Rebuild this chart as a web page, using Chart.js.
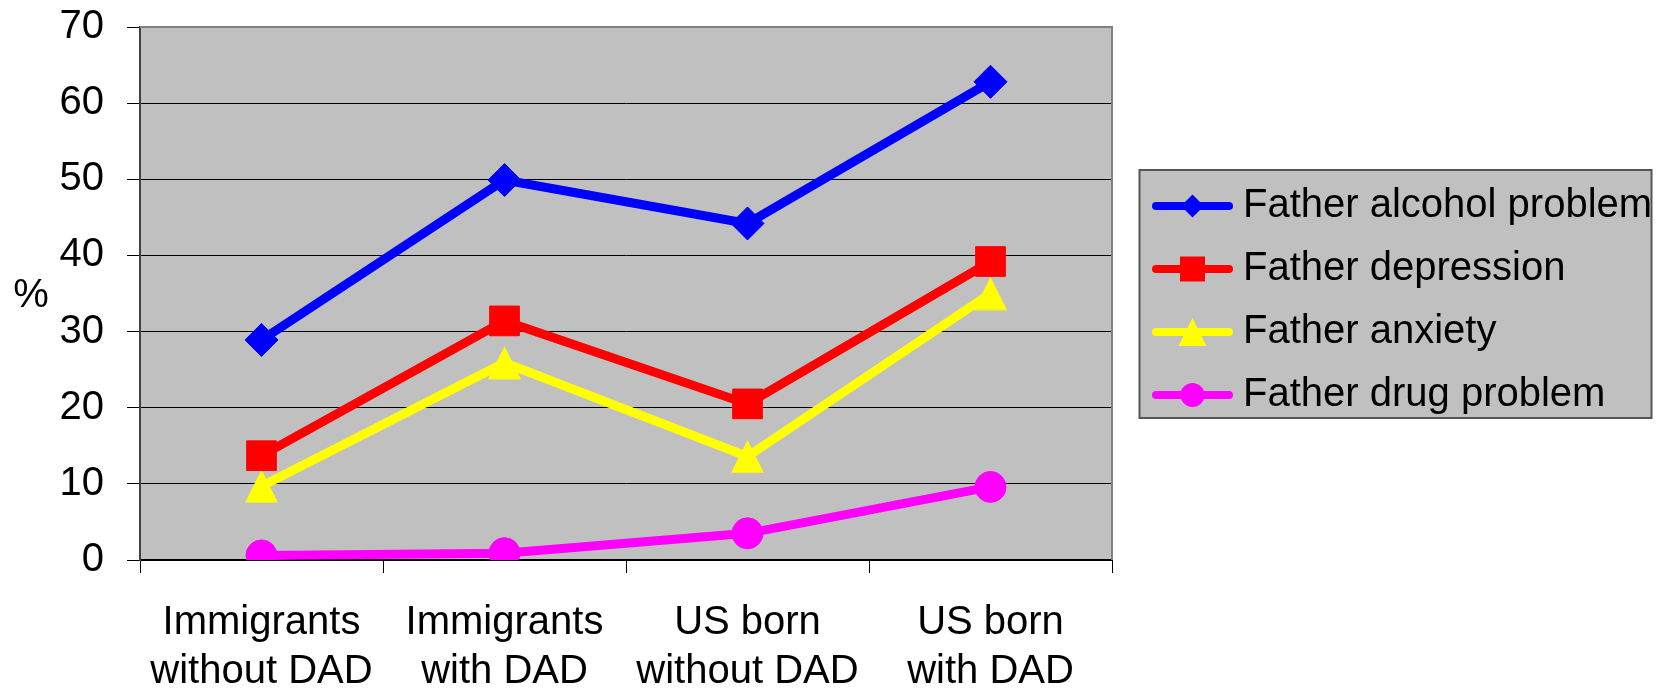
<!DOCTYPE html>
<html><head><meta charset="utf-8">
<script src="https://cdn.jsdelivr.net/npm/chart.js@4"></script>
<style>html,body{margin:0;padding:0;background:#fff;} canvas{display:block;}</style>
</head><body>
<canvas id="c" width="1667" height="689"></canvas>
<script>
const categories = [['Immigrants','without DAD'],['Immigrants','with DAD'],['US born','without DAD'],['US born','with DAD']];
const seriesNames = ['Father alcohol problem','Father depression','Father anxiety','Father drug problem'];
const alcohol = [28.9, 49.9, 44.2, 62.8];
const depression = [13.7, 31.4, 20.5, 39.2];
const anxiety = [9.7, 25.9, 13.6, 35.0];
const drug = [0.6, 0.9, 3.5, 9.6];
const yTicks = [0, 10, 20, 30, 40, 50, 60, 70];
const axisTitle = '%';

const FONT = "'Liberation Sans', Arial, sans-serif";
const FS = 40;
const colors = ['#0000FF', '#FF0000', '#FFFF00', '#FF00FF'];
const shapes = ['diamond', 'square', 'triangle', 'circle'];
const LEGEND_W = 555;

function drawMarker(ctx, shape, cx, cy, s, color) {
  ctx.fillStyle = color;
  ctx.beginPath();
  if (shape === 'diamond') {
    ctx.moveTo(cx, cy - s / 2); ctx.lineTo(cx + s / 2, cy); ctx.lineTo(cx, cy + s / 2); ctx.lineTo(cx - s / 2, cy);
  } else if (shape === 'square') {
    ctx.rect(cx - s / 2, cy - s / 2, s, s);
  } else if (shape === 'triangle') {
    ctx.moveTo(cx, cy - s / 2); ctx.lineTo(cx + s / 2, cy + s / 2); ctx.lineTo(cx - s / 2, cy + s / 2);
  } else {
    ctx.arc(cx, cy, s / 2, 0, Math.PI * 2);
  }
  ctx.closePath();
  ctx.fill();
}

function legendImage(i) {
  const c = document.createElement('canvas');
  c.width = 108; c.height = 40;
  const ctx = c.getContext('2d');
  ctx.strokeStyle = colors[i];
  ctx.lineWidth = 8;
  ctx.lineCap = 'round';
  ctx.beginPath(); ctx.moveTo(31, 20); ctx.lineTo(104, 20); ctx.stroke();
  const sizes = [23, 25, 28, 24];
  drawMarker(ctx, shapes[i], 67.5, 20, sizes[i], colors[i]);
  return c;
}

function triangleImage() {
  const c = document.createElement('canvas');
  c.width = 35; c.height = 34;
  const ctx = c.getContext('2d');
  drawMarker(ctx, 'triangle', 17.5, 17, 33, colors[2]);
  return c;
}

const legendImgs = [0, 1, 2, 3].map(legendImage);

const frame = {
  id: 'frame',
  beforeLayout(chart) {
    const lg = chart.legend;
    if (lg && !lg._wPatched) {
      const orig = lg.fit;
      lg.fit = function () { orig.call(this); this.width = LEGEND_W; };
      lg._wPatched = true;
    }
  },
  beforeDraw(chart) {
    const {ctx, chartArea: a} = chart;
    ctx.save();
    ctx.fillStyle = '#C0C0C0';
    ctx.fillRect(a.left, a.top, a.right - a.left, a.bottom - a.top);
    const hb = chart.legend && chart.legend.legendHitBoxes;
    if (hb && hb.length) {
      const last = hb[hb.length - 1];
      const x0 = hb[0].left + 4.5, y0 = hb[0].top - 16;
      const x1 = hb[0].left + 516.5, y1 = last.top + last.height + 3;
      ctx.fillStyle = '#C0C0C0';
      ctx.fillRect(x0, y0, x1 - x0, y1 - y0);
      ctx.strokeStyle = '#555';
      ctx.lineWidth = 2;
      ctx.strokeRect(x0, y0, x1 - x0, y1 - y0);
    }
    ctx.restore();
  },
  beforeDatasetsDraw(chart) {
    const {ctx, chartArea: a} = chart;
    ctx.save();
    ctx.strokeStyle = '#808080';
    ctx.lineWidth = 2;
    ctx.beginPath();
    ctx.moveTo(a.left, a.top); ctx.lineTo(a.right, a.top); ctx.lineTo(a.right, a.bottom);
    ctx.stroke();
    ctx.restore();
  },
  afterDraw(chart) {
    const ctx = chart.ctx;
    ctx.save();
    ctx.fillStyle = '#000';
    ctx.font = FS + 'px ' + FONT;
    ctx.textAlign = 'center';
    ctx.textBaseline = 'middle';
    ctx.fillText(axisTitle, 31, 296);
    ctx.restore();
  }
};

const seriesData = [alcohol, depression, anxiety, drug];
const pointStyles = ['rectRot', 'rect', triangleImage(), 'circle'];
const pointRadii = [16.5, 21, 17, 15.5];

new Chart(document.getElementById('c'), {
  type: 'line',
  data: {
    labels: categories,
    datasets: seriesData.map((d, i) => ({
      label: seriesNames[i],
      data: d,
      borderColor: colors[i],
      backgroundColor: colors[i],
      borderWidth: 9,
      pointStyle: pointStyles[i],
      pointRadius: pointRadii[i],
      pointBackgroundColor: colors[i],
      pointBorderColor: colors[i],
      pointBorderWidth: 1,
      tension: 0,
      fill: false
    }))
  },
  options: {
    responsive: false,
    animation: false,
    devicePixelRatio: 1,
    layout: {padding: {top: 27, right: 0, bottom: 0, left: 0}},
    plugins: {
      tooltip: {enabled: false},
      legend: {
        position: 'right',
        fullSize: false,
        align: 'center',
        title: {display: true, text: '', padding: 0, font: {family: FONT, size: 10, lineHeight: 1.4}},
        labels: {
          usePointStyle: true,
          pointStyleWidth: 88,
          padding: 23,
          color: '#000',
          font: {family: FONT, size: FS},
          generateLabels(chart) {
            return chart.data.datasets.map((ds, i) => ({
              text: ds.label,
              fillStyle: colors[i],
              strokeStyle: colors[i],
              fontColor: '#000',
              lineWidth: 0,
              hidden: false,
              pointStyle: legendImgs[i],
              datasetIndex: i
            }));
          }
        }
      }
    },
    scales: {
      x: {
        type: 'category',
        offset: true,
        grid: {offset: true, drawOnChartArea: false, drawTicks: true, tickLength: 13, color: '#000', lineWidth: 1},
        border: {display: true, color: '#000', width: 2},
        ticks: {color: '#000', font: {family: FONT, size: FS, lineHeight: 1.23}, padding: 25, maxRotation: 0, autoSkip: false},
        afterFit(s) { s.height = 129; }
      },
      y: {
        min: 0, max: 70,
        afterBuildTicks(s) { s.ticks = yTicks.map(v => ({value: v})); },
        ticks: {color: '#000', font: {family: FONT, size: FS}, padding: 23},
        grid: {color: '#000', lineWidth: 1, tickLength: 13},
        border: {display: true, color: '#404040', width: 2},
        afterFit(s) { s.width = 140; s.paddingTop = 0; s.paddingBottom = 0; }
      }
    }
  },
  plugins: [frame]
});
</script>
</body></html>
